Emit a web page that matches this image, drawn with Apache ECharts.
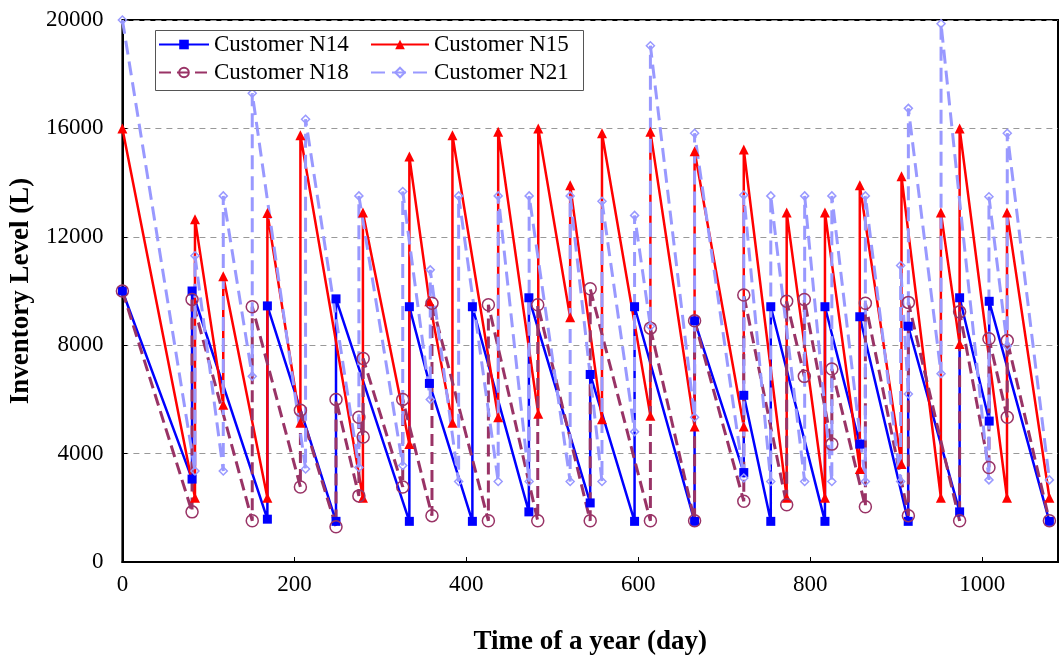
<!DOCTYPE html>
<html>
<head>
<meta charset="utf-8">
<script src="https://cdn.jsdelivr.net/npm/echarts@6/dist/echarts.min.js"></script>
<style>
  html, body { margin: 0; padding: 0; background: #fff; }
  #chart { width: 1060px; height: 661px; }
</style>
</head>
<body>
<div id="chart"></div>
<script>
// day of each point and inventory level (L); a repeated day is a refill
const n14Days = [0, 81, 81, 168.6, 168.6, 248.4, 248.4, 333.7, 333.7, 357, 407, 407, 472.7, 472.7, 544, 544, 595.6, 595.6, 665.4, 665.4, 722.6, 722.6, 754, 754, 817, 817, 857.5, 857.5, 913.8, 913.8, 973.6, 973.6, 1008, 1008, 1078]
const n14Levels = [10000, 3060, 10000, 1580, 9450, 1500, 9710, 1500, 9420, 6590, 1500, 9420, 1850, 9750, 2180, 6920, 1500, 9420, 1500, 8900, 3300, 6150, 1500, 9420, 1500, 9420, 4350, 9050, 1500, 8700, 1850, 9750, 5200, 9620, 1500]

const n15Days = [0, 84.4, 84.4, 117.3, 117.3, 168.6, 168.6, 207, 207, 279.7, 279.7, 333.7, 333.7, 357, 383.8, 383.8, 437, 437, 483.6, 483.6, 520.7, 520.7, 557.7, 557.7, 614, 614, 665.4, 665.4, 722.6, 722.6, 772.5, 772.5, 817, 817, 857.5, 857.5, 906, 906, 951.8, 951.8, 973.6, 973.6, 1028.7, 1028.7, 1078]
const n15Levels = [16000, 2370, 12650, 5800, 10540, 2370, 12880, 5140, 15750, 2370, 12900, 4350, 14960, 9620, 5140, 15750, 5340, 15880, 5470, 16000, 9030, 13900, 5270, 15820, 5400, 15880, 5000, 15160, 5000, 15220, 2370, 12900, 2370, 12900, 3430, 13900, 3620, 14230, 2370, 12900, 8040, 16000, 2370, 12900, 2370]

const n18Days = [0, 81, 81, 151, 151, 207, 207, 248.4, 248.4, 275, 275, 280, 280, 326, 326, 360, 360, 425.6, 425.6, 483, 483, 544, 544, 614, 614, 665.4, 665.4, 722.6, 722.6, 772.5, 772.5, 793, 793, 825, 825, 864, 864, 914, 914, 973.6, 973.6, 1007.7, 1007.7, 1029, 1029, 1078]
const n18Levels = [10000, 1850, 9690, 1520, 9420, 2770, 5600, 1300, 6000, 2440, 5340, 4610, 7510, 2770, 6000, 1710, 9550, 1520, 9490, 1520, 9490, 1520, 10080, 1520, 8630, 1520, 8900, 2240, 9850, 2110, 9620, 6850, 9690, 4350, 7120, 2040, 9550, 1710, 9580, 1520, 9230, 3490, 8240, 5340, 8170, 1520]

const n21Days = [0, 84.4, 84.4, 117.3, 117.3, 151, 151, 213, 213, 275, 275, 326, 326, 358, 358, 391, 391, 437, 437, 473, 473, 520.7, 520.7, 557.7, 557.7, 595.6, 595.6, 614, 614, 665.4, 665.4, 722.6, 722.6, 754, 754, 793.4, 793.4, 825, 825, 864, 864, 905, 905, 914, 914, 952, 952, 1007.7, 1007.7, 1029, 1029, 1078]
const n21Levels = [20000, 3360, 11300, 3360, 13510, 6850, 17300, 3430, 16340, 3490, 13510, 3560, 13670, 6000, 10780, 2970, 13510, 2970, 13510, 2970, 13510, 2970, 13510, 2970, 13310, 4810, 12790, 8700, 19050, 5340, 15820, 3100, 13540, 2970, 13510, 2970, 13510, 2970, 13510, 2970, 13510, 2970, 10940, 6200, 16740, 6950, 19860, 3030, 13480, 7970, 15820, 3030]

const seriesNames = ['Customer N14', 'Customer N15', 'Customer N18', 'Customer N21']
const yTicks = [0, 4000, 8000, 12000, 16000, 20000]
const xTicks = [0, 200, 400, 600, 800, 1000]

const pairs = (days, levels) => days.map((d, i) => [d, levels[i]])

const serif = 'Liberation Serif, Times New Roman, serif'

// one legend per column so the two rows can sit close together
const legendColumn = (names, left, iconWidth) => ({
  data: names,
  orient: 'vertical',
  left: left,
  top: 33,
  itemWidth: iconWidth,
  itemHeight: 12,
  itemGap: 5,
  padding: 0,
  z: 60,
  textStyle: { fontFamily: serif, fontSize: 23, color: '#000' }
})

const chart = echarts.init(document.getElementById('chart'))

chart.setOption({
  animation: false,
  backgroundColor: '#fff',
  grid: {
    left: 119,
    right: 2,
    top: 20,
    bottom: 85,
    show: true,
    borderColor: '#000',
    borderWidth: 2
  },
  graphic: [{
    type: 'rect',
    left: 155,
    top: 30,
    shape: { width: 428, height: 60 },
    style: { fill: '#fff', stroke: '#555', lineWidth: 1 },
    z: 50
  }],
  legend: [
    legendColumn([seriesNames[0], seriesNames[2]], 158, 50),
    legendColumn([seriesNames[1], seriesNames[3]], 370, 58)
  ],
  xAxis: {
    type: 'value',
    min: xTicks[0],
    max: 1088,
    interval: 200,
    name: 'Time of a year (day)',
    nameLocation: 'middle',
    nameGap: 67,
    nameTextStyle: { fontFamily: serif, fontSize: 27, fontWeight: 'bold', color: '#000' },
    axisLine: { lineStyle: { color: '#000', width: 2 } },
    axisTick: { inside: true, length: 5, lineStyle: { color: '#000' } },
    axisLabel: {
      showMaxLabel: false,
      margin: 11,
      fontFamily: serif,
      fontSize: 23,
      color: '#000',
      formatter: v => String(v)
    },
    splitLine: { show: false }
  },
  yAxis: {
    type: 'value',
    min: yTicks[0],
    max: yTicks[yTicks.length - 1],
    interval: 4000,
    name: 'Inventory Level (L)',
    nameLocation: 'middle',
    nameGap: 73,
    nameTextStyle: { fontFamily: serif, fontSize: 27, fontWeight: 'bold', color: '#000' },
    axisLine: { show: true, lineStyle: { color: '#000', width: 2 } },
    axisTick: { show: true, inside: true, length: 5, lineStyle: { color: '#000' } },
    axisLabel: {
      margin: 19,
      fontFamily: serif,
      fontSize: 23,
      color: '#000',
      formatter: v => String(v)
    },
    splitLine: { lineStyle: { color: '#999', type: [6, 5], width: 1 } }
  },
  series: [
    {
      name: seriesNames[0],
      type: 'line',
      data: pairs(n14Days, n14Levels),
      symbol: 'rect',
      symbolSize: 9,
      lineStyle: { color: '#0000ff', width: 2.5 },
      itemStyle: { color: '#0000ff' }
    },
    {
      name: seriesNames[1],
      type: 'line',
      data: pairs(n15Days, n15Levels),
      symbol: 'triangle',
      symbolSize: 10,
      lineStyle: { color: '#ff0000', width: 2.5 },
      itemStyle: { color: '#ff0000' }
    },
    {
      name: seriesNames[2],
      type: 'line',
      data: pairs(n18Days, n18Levels),
      symbol: 'circle',
      symbolSize: 12,
      lineStyle: { color: '#993366', width: 3, type: [12, 6] },
      itemStyle: { color: 'rgba(255,255,255,0)', borderColor: '#993366', borderWidth: 1.5 }
    },
    {
      name: seriesNames[3],
      type: 'line',
      data: pairs(n21Days, n21Levels),
      symbol: 'diamond',
      symbolSize: 8,
      lineStyle: { color: '#9999ff', width: 3, type: [14, 7] },
      itemStyle: { color: 'rgba(255,255,255,0)', borderColor: '#9999ff', borderWidth: 1.5 }
    }
  ]
})
</script>
</body>
</html>
